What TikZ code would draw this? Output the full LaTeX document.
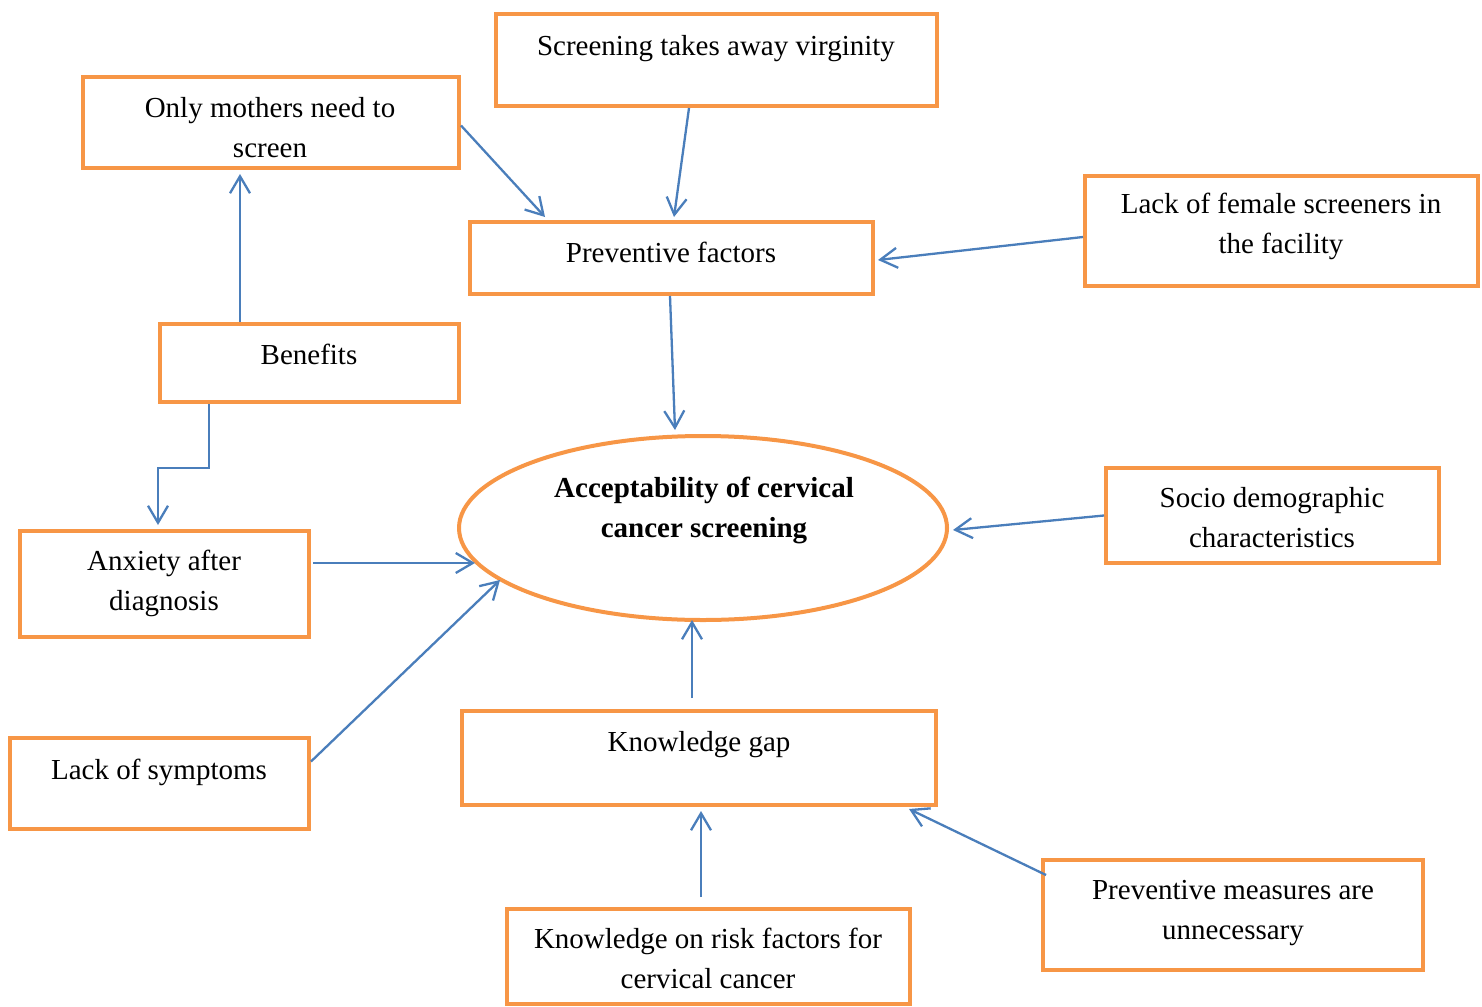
\documentclass[tikz,border=0pt]{standalone}
\usepackage{fontspec}
\setmainfont{Liberation Serif}
\usetikzlibrary{shapes.geometric,arrows.meta,calc}
\definecolor{boxor}{HTML}{F79646}
\definecolor{arrbl}{HTML}{4A7EBB}
\begin{document}
\begin{tikzpicture}[x=0.5pt,y=-0.5pt,
  box/.style={draw=boxor,line width=2pt,rectangle,inner sep=0pt,fill=white},
  lbl/.style={inner sep=0pt,align=center,font=\fontsize{14.5pt}{20pt}\selectfont},
  conn/.style={draw=arrbl,line width=1.15pt,-{Straight Barb[length=8.5pt,width=10pt,line width=1.15pt]}}]
\useasboundingbox (0,0) rectangle (1482,1006);
% boxes
\node[box,minimum width=220.5pt,minimum height=46pt] (scr) at (716.5,60) {};
\node[box,minimum width=188pt,minimum height=45.5pt] (mothers) at (271,122.5) {};
\node[box,minimum width=201.5pt,minimum height=36pt] (prev) at (671.5,258) {};
\node[box,minimum width=196.5pt,minimum height=55pt] (lfs) at (1281.5,231) {};
\node[box,minimum width=149.5pt,minimum height=39pt] (ben) at (309.5,363) {};
\node[draw=boxor,line width=2pt,ellipse,inner sep=0pt,minimum width=244pt,minimum height=92pt] (acc) at (703,528) {};
\node[box,minimum width=166.5pt,minimum height=47.5pt] (socio) at (1272.5,515.5) {};
\node[box,minimum width=144.5pt,minimum height=53pt] (anx) at (164.5,584) {};
\node[box,minimum width=149.5pt,minimum height=45.5pt] (sym) at (159.5,783.5) {};
\node[box,minimum width=237pt,minimum height=47pt] (kg) at (699,758) {};
\node[box,minimum width=190pt,minimum height=55pt] (pm) at (1233,915) {};
\node[box,minimum width=201.5pt,minimum height=47.5pt] (kr) at (708.5,956.5) {};
% texts
\node[lbl] (tscr) at (716,49) {Screening takes away virginity};
\node[lbl] (tmothers) at (270,127.5) {Only mothers need to\\screen};
\node[lbl] (tprev) at (671,252) {Preventive factors};
\node[lbl] (tlfs) at (1281,226.5) {Lack of female screeners in\\the facility};
\node[lbl] (tben) at (309,354) {Benefits};
\node[lbl,font=\fontsize{14.5pt}{20pt}\selectfont\bfseries] (tacc) at (704,510.5) {Acceptability of cervical\\cancer screening};
\node[lbl] (tsocio) at (1272,518) {Socio demographic\\characteristics};
\node[lbl] (tanx) at (164,583) {Anxiety after\\diagnosis};
\node[lbl] (tsym) at (159,772) {Lack of symptoms};
\node[lbl] (tkg) at (699,745) {Knowledge gap};
\node[lbl] (tpm) at (1233,913) {Preventive measures are\\unnecessary};
\node[lbl] (tkr) at (708,958) {Knowledge on risk factors for\\cervical cancer};
% connectors
\draw[conn] ($(mothers.east)+(0,3)$) -- ($(prev.north west)+(77,-3)$);
\draw[conn] ($(scr.south west)+(195,0)$) -- ($(prev.north west)+(206,-3)$);
\draw[conn] ($(lfs.west)+(0,6)$) -- ($(prev.east)+(3,2)$);
\draw[conn] ($(prev.south)+(-1.5,0)$) -- ($(acc.center)+(-28,-98)$);
\draw[conn] ($(ben.north west)+(82,0)$) -- ($(mothers.south west)+(159,4)$);
\draw[conn] ($(ben.south west)+(51,0)$) -- ++(0,64) -| ($(anx.north west)+(140,-4)$);
\draw[conn] ($(anx.east)+(2,-21)$) -- ($(acc.center)+(-228,35)$);
\draw[conn] ($(sym.east)+(0,-22)$) -- ($(acc.center)+(-203,52)$);
\draw[conn] (socio.west) -- ($(acc.center)+(250,2)$);
\draw[conn] ($(kg.north)+(-7,-11)$) -- ($(acc.center)+(-11,92)$);
\draw[conn] ($(kr.north)+(-7.5,-10)$) -- ($(kg.south)+(2,4)$);
\draw[conn] ($(pm.north west)+(5,17)$) -- ($(kg.south east)+(-29,2)$);
\end{tikzpicture}
\end{document}
